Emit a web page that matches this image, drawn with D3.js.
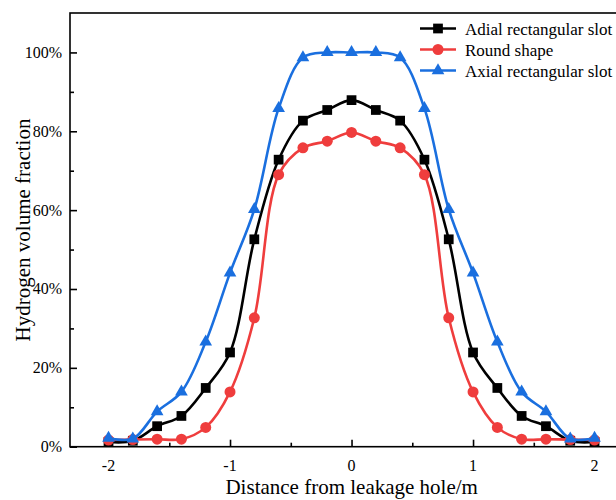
<!DOCTYPE html>
<html>
<head>
<meta charset="utf-8">
<script src="https://cdn.jsdelivr.net/npm/d3@7"></script>
<style>
  body { margin: 0; background: #fff; }
  svg { display: block; font-family: "Liberation Serif", "Times New Roman", serif; }
</style>
</head>
<body>
<div id="chart"></div>
<script>
// Distance from leakage hole (m)
const distances = [-2, -1.8, -1.6, -1.4, -1.2, -1, -0.8, -0.6, -0.4, -0.2, 0,
                   0.2, 0.4, 0.6, 0.8, 1, 1.2, 1.4, 1.6, 1.8, 2];

// Hydrogen volume fraction (%)
const adialValues = [1.2, 1.5, 5.2, 7.8, 14.9, 23.9, 52.6, 72.8, 82.7, 85.4, 87.9,
                     85.4, 82.7, 72.8, 52.6, 23.9, 14.9, 7.8, 5.2, 1.5, 1.2];
const roundValues = [1.7, 1.8, 1.9, 1.9, 4.9, 13.9, 32.7, 69.0, 75.8, 77.5, 79.7,
                     77.5, 75.8, 69.0, 32.7, 13.9, 4.9, 1.9, 1.9, 1.8, 1.7];
const axialValues = [2.2, 2.0, 8.9, 13.9, 26.6, 44.1, 60.2, 85.8, 98.7, 100, 100,
                     100, 98.7, 85.8, 60.2, 44.1, 26.6, 13.9, 8.9, 2.0, 2.2];

const seriesNames = ["Adial rectangular slot", "Round shape", "Axial rectangular slot"];
const xTicks = [-2, -1, 0, 1, 2];
const yTicks = [0, 20, 40, 60, 80, 100];

const series = [
    {name: seriesNames[0], values: adialValues, color: "#000000", symbol: d3.symbolSquare, size: 95},
    {name: seriesNames[1], values: roundValues, color: "#ef3d3d", symbol: d3.symbolCircle, size: 95},
    {name: seriesNames[2], values: axialValues, color: "#1a6fdf", symbol: d3.symbolTriangle, size: 70}
];

const W = 616, H = 500;
const margin = {top: 13, left: 70};
const plotRight = 631, plotBottom = 446.7;
const serif = "Liberation Serif";
const tickFont = 16;

const svg = d3.select("#chart").append("svg")
    .attr("width", W)
    .attr("height", H);

const x = d3.scaleLinear().domain([-2.317, 2.3]).range([margin.left, plotRight]);
const y = d3.scaleLinear().domain([0, 110]).range([plotBottom, margin.top]);

// Frame (right side falls outside the picture)
svg.append("rect")
    .attr("x", margin.left)
    .attr("y", margin.top)
    .attr("width", plotRight - margin.left)
    .attr("height", plotBottom - margin.top)
    .attr("fill", "none")
    .attr("stroke", "#000")
    .attr("stroke-width", 1.6);

// X axis: ticks point inward, labels drawn as own texts
const xAxis = svg.append("g").attr("transform", "translate(0," + plotBottom + ")");
xAxis.call(d3.axisBottom(x).tickValues(xTicks).tickFormat(() => "").tickSizeInner(-7).tickSizeOuter(0));
xAxis.append("g").call(d3.axisBottom(x).tickValues([-1.5, -0.5, 0.5, 1.5]).tickFormat(() => "").tickSizeInner(-4).tickSizeOuter(0));
xAxis.selectAll(".domain").remove();
xAxis.selectAll("line").attr("stroke", "#000").attr("stroke-width", 1.6);

svg.append("g").selectAll("text")
    .data(xTicks)
    .enter()
    .append("text")
    .attr("x", d => x(d))
    .attr("y", plotBottom + 24)
    .attr("text-anchor", "middle")
    .attr("font-family", serif)
    .attr("font-size", tickFont)
    .text(d => String(d));

// Y axis
const yAxis = svg.append("g").attr("transform", "translate(" + margin.left + ",0)");
yAxis.call(d3.axisLeft(y).tickValues(yTicks).tickFormat(() => "").tickSizeInner(-7).tickSizeOuter(0));
yAxis.append("g").call(d3.axisLeft(y).tickValues([10, 30, 50, 70, 90]).tickFormat(() => "").tickSizeInner(-4).tickSizeOuter(0));
yAxis.selectAll(".domain").remove();
yAxis.selectAll("line").attr("stroke", "#000").attr("stroke-width", 1.6);

svg.append("g").selectAll("text")
    .data(yTicks)
    .enter()
    .append("text")
    .attr("x", margin.left - 8)
    .attr("y", d => y(d) + 5.5)
    .attr("text-anchor", "end")
    .attr("font-family", serif)
    .attr("font-size", tickFont)
    .text(d => d + "%");

// Axis titles
svg.append("text")
    .attr("x", 351.7)
    .attr("y", 494)
    .attr("text-anchor", "middle")
    .attr("font-family", serif)
    .attr("font-size", 21)
    .text("Distance from leakage hole/m");

svg.append("text")
    .attr("transform", "translate(30,230) rotate(-90)")
    .attr("text-anchor", "middle")
    .attr("font-family", serif)
    .attr("font-size", 21)
    .text("Hydrogen volume fraction");

// Lines and markers
const line = d3.line()
    .x((d, i) => x(distances[i]))
    .y(d => y(d))
    .curve(d3.curveCatmullRom.alpha(0.5));

series.forEach(s => {
    svg.append("path")
        .datum(s.values)
        .attr("d", line)
        .attr("fill", "none")
        .attr("stroke", s.color)
        .attr("stroke-width", 2.6);

    svg.selectAll(null)
        .data(s.values)
        .enter()
        .append("path")
        .attr("d", d3.symbol().type(s.symbol).size(s.size))
        .attr("transform", (d, i) => "translate(" + x(distances[i]) + "," + y(d) + ")")
        .attr("fill", s.color);
});

// Legend
const legend = svg.append("g");
series.forEach((s, i) => {
    const ly = 28.5 + i * 21;
    legend.append("line")
        .attr("x1", 420).attr("x2", 456)
        .attr("y1", ly).attr("y2", ly)
        .attr("stroke", s.color)
        .attr("stroke-width", 2.6);
    legend.append("path")
        .attr("d", d3.symbol().type(s.symbol).size(s.size))
        .attr("transform", "translate(438," + ly + ")")
        .attr("fill", s.color);
    legend.append("text")
        .attr("x", 465)
        .attr("y", ly + 6)
        .attr("font-family", serif)
        .attr("font-size", 17)
        .text(s.name);
});
</script>
</body>
</html>
